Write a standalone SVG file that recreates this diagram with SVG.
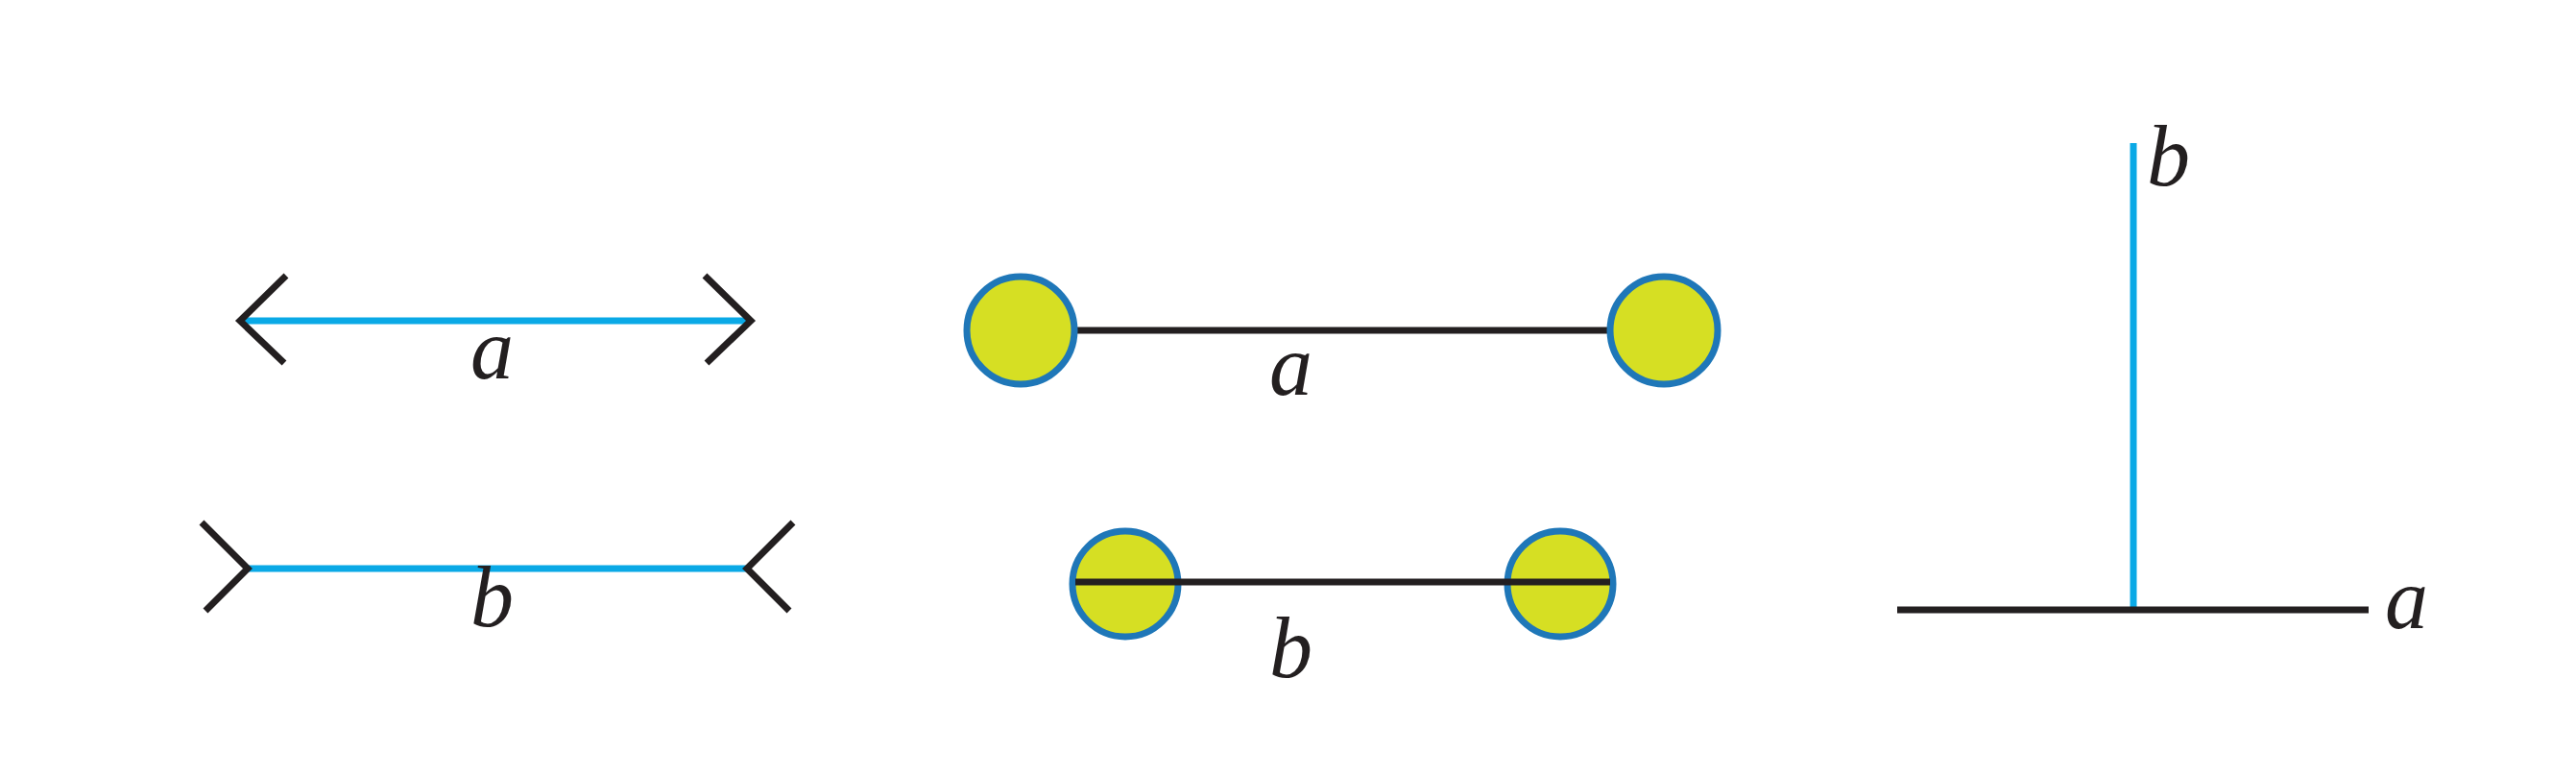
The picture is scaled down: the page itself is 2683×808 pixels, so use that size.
<svg xmlns="http://www.w3.org/2000/svg" width="2683" height="808" viewBox="0 0 2683 808">
<style>
.c{stroke:#0aa9e6;stroke-width:7;fill:none}
.k{stroke:#231f20;stroke-width:7;fill:none}
.n{fill:#d6df23;stroke:#1f77b8;stroke-width:7}
.t{font-family:"Liberation Serif",serif;font-style:italic;font-size:90px;fill:#231f20}
</style>
<rect width="2683" height="808" fill="#fff"/>
<g id="connectors">
<line class="c" x1="252" y1="334" x2="779" y2="334"/>
<polyline class="k" points="298,287 250,334 296,378"/>
<polyline class="k" points="734,287 782,334 736,378"/>
<line class="c" x1="258" y1="592" x2="778" y2="592"/>
<polyline class="k" points="210,544 258,592 214,636"/>
<polyline class="k" points="826,544 778,592 822,636"/>
<line class="k" x1="1119" y1="344" x2="1677" y2="344"/>
<line class="c" x1="2222" y1="149" x2="2222" y2="632"/>
<line class="k" x1="1976" y1="635" x2="2467" y2="635"/>
</g>
<g id="n1"><circle class="n" cx="1063" cy="344" r="56"/></g>
<g id="n2"><circle class="n" cx="1733" cy="344" r="56"/></g>
<g id="n3"><circle class="n" cx="1172" cy="608" r="55"/></g>
<g id="n4"><circle class="n" cx="1625" cy="608" r="55"/></g>
<g id="bar"><line class="k" x1="1120" y1="606" x2="1677" y2="606"/></g>
<g id="labels">
<text class="t" x="490" y="394">a</text>
<text class="t" x="490" y="652">b</text>
<text class="t" x="1322" y="411">a</text>
<text class="t" x="1322" y="705">b</text>
<text class="t" x="2236" y="193">b</text>
<text class="t" x="2484" y="654">a</text>
</g>
</svg>
